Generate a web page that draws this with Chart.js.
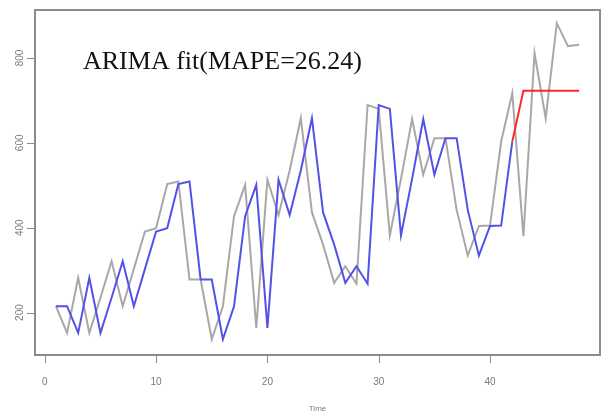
<!DOCTYPE html>
<html>
<head>
<meta charset="utf-8">
<script src="https://cdn.jsdelivr.net/npm/chart.js@4/dist/chart.umd.min.js"></script>
<style>
  html, body { margin: 0; padding: 0; background: #ffffff; }
  #wrap { width: 605px; height: 416px; }
</style>
</head>
<body>
<div id="wrap"><canvas id="c" width="605" height="416"></canvas></div>
<script>
// Observed series, t = 1..48
const timeIndex = [1,2,3,4,5,6,7,8,9,10,11,12,13,14,15,16,17,18,19,20,21,22,23,24,
                   25,26,27,28,29,30,31,32,33,34,35,36,37,38,39,40,41,42,43,44,45,46,47,48];
const observed = [215,152,282,152,235,321,215,303,391,399,503,509,278,278,137,215,427,501,164,513,430,535,658,436,
                  360,270,309,268,689,680,382,515,656,525,611,611,442,334,404,405,603,717,380,811,658,882,828,831];

// In-sample ARIMA fitted values, t = 1..42
const fittedTime = [1,2,3,4,5,6,7,8,9,10,11,12,13,14,15,16,17,18,19,20,21,
                    22,23,24,25,26,27,28,29,30,31,32,33,34,35,36,37,38,39,40,41,42];
const fitted = [215,215,152,282,152,235,321,215,303,391,399,503,509,278,278,137,215,427,501,164,513,
                430,535,658,436,360,270,309,268,689,680,382,515,656,525,611,611,442,334,404,405,603];

// Forecast, t = 42..48
const forecastTime = [42,43,44,45,46,47,48];
const forecast = [603,723,723,723,723,723,723];

const xTicks = [0, 10, 20, 30, 40];
const yTicks = [200, 400, 600, 800];
const titleText = 'ARIMA fit(MAPE=26.24)';
const xTitle = 'Time';

const pairs = (xs, ys) => xs.map((x, i) => ({ x: x, y: ys[i] }));

const frameColor = '#8c8c8c';
const tickColor = '#8a8a8a';
const labelColor = '#7a7a7a';

// Box around the plot region, tick marks, rotated y labels and the in-plot title
const framePlugin = {
  id: 'frame',
  afterDraw(chart) {
    const { ctx, chartArea: a } = chart;
    const xs = chart.scales.x;
    const ys = chart.scales.y;
    ctx.save();

    ctx.strokeStyle = frameColor;
    ctx.lineWidth = 2;
    ctx.strokeRect(a.left, a.top, a.right - a.left, a.bottom - a.top);

    ctx.strokeStyle = tickColor;
    ctx.lineWidth = 1;
    ctx.beginPath();
    xs.ticks.forEach(t => {
      const px = Math.round(xs.getPixelForValue(t.value)) + 0.5;
      ctx.moveTo(px, a.bottom + 1);
      ctx.lineTo(px, a.bottom + 8);
    });
    ys.ticks.forEach(t => {
      const py = Math.round(ys.getPixelForValue(t.value)) + 0.5;
      ctx.moveTo(a.left - 1, py);
      ctx.lineTo(a.left - 8, py);
    });
    ctx.stroke();

    ctx.fillStyle = labelColor;
    ctx.font = '10px "Liberation Sans", sans-serif';
    ctx.textAlign = 'center';
    ctx.textBaseline = 'middle';
    ys.ticks.forEach(t => {
      const py = ys.getPixelForValue(t.value);
      ctx.save();
      ctx.translate(20, py);
      ctx.rotate(-Math.PI / 2);
      ctx.fillText(String(t.value), 0, 0);
      ctx.restore();
    });

    ctx.fillStyle = '#111111';
    ctx.font = '26px "Liberation Serif", "Times New Roman", serif';
    ctx.textAlign = 'left';
    ctx.textBaseline = 'alphabetic';
    ctx.fillText(titleText, 83, 69);
    ctx.restore();
  }
};

new Chart(document.getElementById('c'), {
  type: 'line',
  data: {
    datasets: [
      {
        label: 'observed',
        data: pairs(timeIndex, observed),
        borderColor: 'rgb(168,168,168)',
        borderWidth: 2,
        pointRadius: 0,
        tension: 0,
        order: 3
      },
      {
        label: 'fitted',
        data: pairs(fittedTime, fitted),
        borderColor: 'rgb(82,82,232)',
        borderWidth: 2,
        pointRadius: 0,
        tension: 0,
        order: 2
      },
      {
        label: 'forecast',
        data: pairs(forecastTime, forecast),
        borderColor: 'rgb(255,40,40)',
        borderWidth: 2,
        pointRadius: 0,
        tension: 0,
        order: 1
      }
    ]
  },
  options: {
    responsive: false,
    animation: false,
    devicePixelRatio: 1,
    layout: { padding: { top: 10, right: 5, left: 0, bottom: 0 } },
    plugins: { legend: { display: false }, tooltip: { enabled: false } },
    scales: {
      x: {
        type: 'linear',
        position: 'bottom',
        min: -0.88,
        max: 49.88,
        afterBuildTicks: s => { s.ticks = xTicks.map(v => ({ value: v })); },
        afterFit: s => { s.height = 61; },
        grid: { display: false },
        border: { display: false },
        ticks: {
          color: labelColor,
          font: { family: '"Liberation Sans", sans-serif', size: 10 },
          padding: 13,
          maxRotation: 0,
          autoSkip: false
        },
        title: {
          display: true,
          text: xTitle,
          color: labelColor,
          font: { family: '"Liberation Sans", sans-serif', size: 8 },
          padding: { top: 0, bottom: 2 }
        }
      },
      y: {
        type: 'linear',
        position: 'left',
        min: 100,
        max: 913,
        afterBuildTicks: s => { s.ticks = yTicks.map(v => ({ value: v })); },
        afterFit: s => { s.width = 35; },
        grid: { display: false },
        border: { display: false },
        ticks: { display: false }
      }
    }
  },
  plugins: [framePlugin]
});
</script>
</body>
</html>
